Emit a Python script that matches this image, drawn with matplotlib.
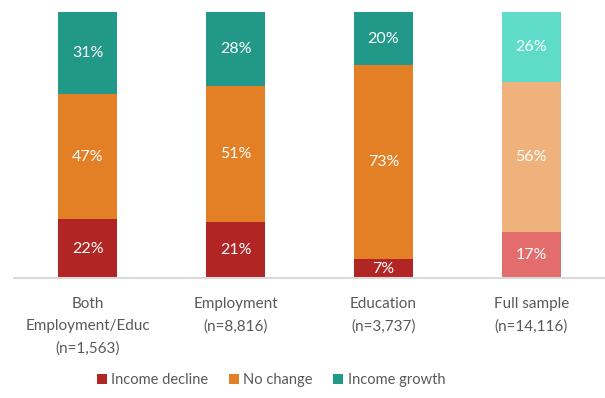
import matplotlib.pyplot as plt
from matplotlib.patches import Patch
import numpy as np

plt.rcParams['font.family'] = ['Lato', 'DejaVu Sans']

groups = ['Both\nEmployment/Educ\n(n=1,563)', 'Employment\n(n=8,816)',
          'Education\n(n=3,737)', 'Full sample\n(n=14,116)']
decline = np.array([22, 21, 7, 17])
no_change = np.array([47, 51, 73, 56])
growth = np.array([31, 28, 20, 26])
series_names = ['Income decline', 'No change', 'Income growth']

# dark colours for the subgroups, light ones for the full sample
dark = ['#b22525', '#e38026', '#229988']
light = ['#e36c6c', '#efb27c', '#5fdcc9']

# 100% stacked: each column scaled to its own total
totals = decline + no_change + growth
shares = [s / totals * 100 for s in (decline, no_change, growth)]
raw = [decline, no_change, growth]

W, H = 605, 398
fig = plt.figure(figsize=(W / 100, H / 100), dpi=100)
ax = fig.add_axes([14 / W, (H - 278) / H, 591 / W, 266 / H])

x = np.arange(len(groups))
bottom = np.zeros(len(groups))
for k in range(3):
    cols = [dark[k]] * (len(groups) - 1) + [light[k]]
    ax.bar(x, shares[k], bottom=bottom, width=0.4, color=cols, linewidth=0)
    for i in range(len(groups)):
        ax.text(x[i], bottom[i] + shares[k][i] / 2, f'{raw[k][i]}%',
                ha='center', va='center', color='white', fontsize=11.5)
    bottom += shares[k]

ax.set_xlim(-0.5, 3.5)
ax.set_ylim(0, 100)
ax.set_yticks([])
ax.set_xticks(x)
ax.set_xticklabels(groups, fontsize=11, color='#595959', linespacing=1.72)
ax.tick_params(axis='x', length=0, pad=14)
for s in ['top', 'right', 'left']:
    ax.spines[s].set_visible(False)
ax.spines['bottom'].set_color('#d9d9d9')
ax.spines['bottom'].set_linewidth(1.5)

handles = [Patch(facecolor=c, edgecolor='none') for c in dark]
fig.legend(handles, series_names, loc='center', bbox_to_anchor=(271 / W, 1 - 380 / H),
           ncol=3, frameon=False, fontsize=10.5, labelcolor='#595959',
           handlelength=0.7, handleheight=0.7, handletextpad=0.3, columnspacing=1.4)

fig.savefig('out.png', dpi=100)
